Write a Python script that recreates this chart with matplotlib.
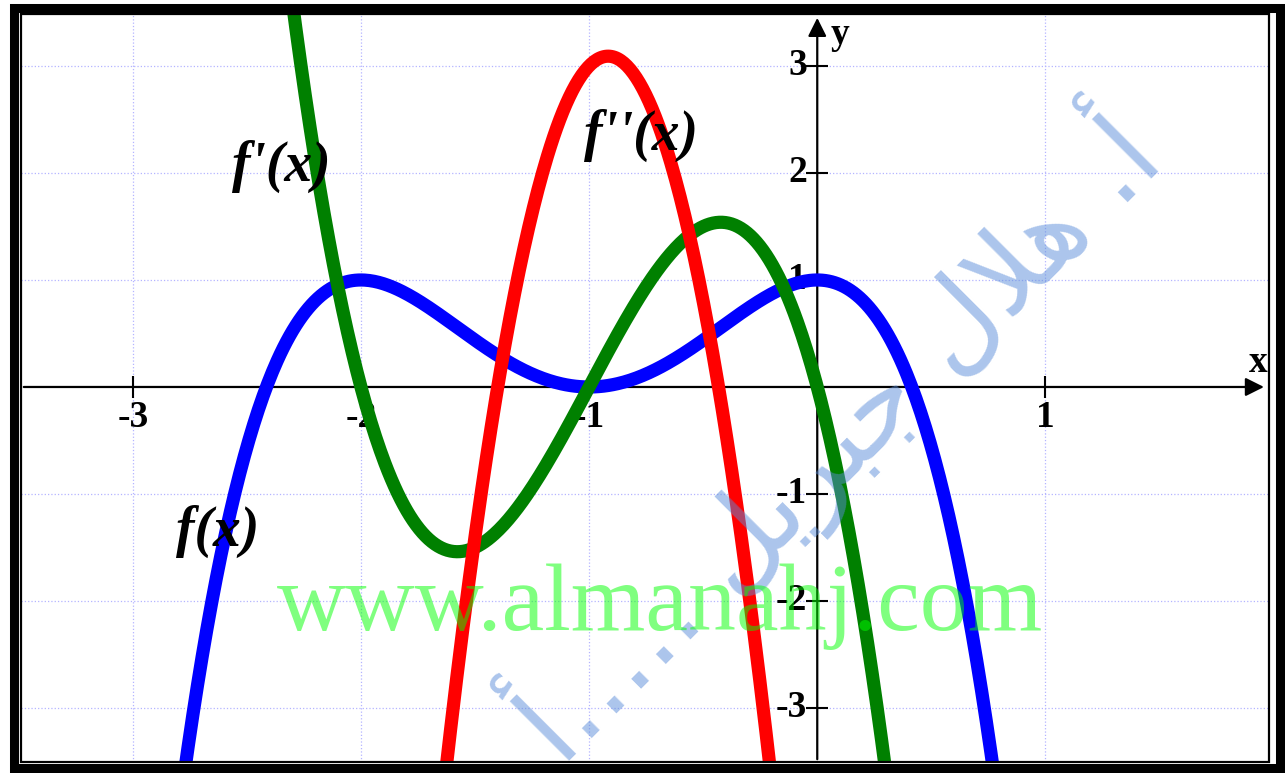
import numpy as np
import matplotlib.pyplot as plt
from matplotlib.patches import Rectangle

plt.rcParams['axes.unicode_minus'] = False

# polynomial coefficients (highest power first)
f_coef = [-1, -4, -4, 0, 1]        # f(x): max 1 at x=-2 and x=0, min 0 at x=-1
fp_coef = [-4, -12, -8, 0]         # f'(x)
fpp_coef = [-13.2, -24.2, -8.0]    # f''(x): peak ~3.08 near x=-0.92

xticks = [-3, -2, -1, 1]
yticks = [-3, -2, -1, 1, 2, 3]

xmin, xmax = -3.49, 1.98
ymin, ymax = -3.505, 3.486

W, H = 1285, 773
fig = plt.figure(figsize=(W / 100, H / 100), dpi=100)
ax = fig.add_axes([21 / W, (H - 762) / H, (1269 - 21) / W, (762 - 14) / H])
ax.set_xlim(xmin, xmax)
ax.set_ylim(ymin, ymax)
for s in ax.spines.values():
    s.set_visible(False)
ax.set_xticks([])
ax.set_yticks([])

# dotted grid at integers
for v in xticks:
    ax.axvline(v, color='#b4b4ff', lw=0.9, ls=':', zorder=0)
for v in yticks:
    ax.axhline(v, color='#b4b4ff', lw=0.9, ls=':', zorder=0)

# axes with arrows
ax.annotate('', xy=(xmax - 0.01, 0), xytext=(xmin, 0),
            arrowprops=dict(arrowstyle='-|>', color='k', lw=1.6, mutation_scale=28),
            annotation_clip=False, zorder=1)
ax.annotate('', xy=(0, ymax - 0.01), xytext=(0, ymin),
            arrowprops=dict(arrowstyle='-|>', color='k', lw=1.6, mutation_scale=28),
            annotation_clip=False, zorder=1)
ax.plot([0] * len(yticks), yticks, ls='none', marker='_', ms=16, mew=1.5, color='k', zorder=1)
ax.plot(xticks, [0] * len(xticks), ls='none', marker='|', ms=16, mew=1.5, color='k', zorder=1)

tfont = dict(family='Liberation Serif', weight='bold', size=27)
for v in xticks:
    ax.text(v, -0.12, str(v), ha='center', va='top', zorder=1, **tfont)
for v in yticks:
    ax.text(-0.045, v, str(v), ha='right', va='center', zorder=1, **tfont)
ax.text(1.935, 0.23, 'x', ha='center', va='center', zorder=1, **tfont)
ax.text(0.10, 3.29, 'y', ha='center', va='center', zorder=1, **tfont)

xs = np.linspace(xmin, xmax, 800)
ax.plot(xs, np.polyval(f_coef, xs), color='#0000ff', lw=9.5, zorder=3)
ax.plot(xs, np.polyval(fp_coef, xs), color='#008000', lw=9.5, zorder=3)
ax.plot(xs, np.polyval(fpp_coef, xs), color='#ff0000', lw=9.5, zorder=3)

lfont = dict(family='Liberation Serif', weight='bold', style='italic', size=40)
ax.text(-2.351, 2.065, "f'(x)", ha='center', va='center', zorder=4, **lfont)
ax.text(-0.772, 2.355, "f''(x)", ha='center', va='center', zorder=4, **lfont)
ax.text(-2.627, -1.346, "f(x)", ha='center', va='center', zorder=4, **lfont)

# watermarks
ax.text(-0.689, -2.271, 'www.almanahj.com', family='Liberation Serif', size=69,
        color='#00ff00', alpha=0.5, ha='center', va='baseline', zorder=6)
arabic = '\uFE83..... \uFEDE\uFEF3\uFEAE\uFE92\uFE9F \uFEDD\uFEFC\uFEEB .\uFE83'
ax.text(0.07, -0.45, arabic, family='DejaVu Sans', size=79, color='#5a8cd9',
        alpha=0.5, rotation=45, rotation_mode='anchor', ha='center', va='center', zorder=5)

# double frame
fig.patches.append(Rectangle((14 / W, 1 - 768 / H), (1280 - 14) / W, (768 - 7.5) / H,
                             transform=fig.transFigure, fill=False, ec='k', lw=6.5))
fig.patches.append(Rectangle((21 / W, 1 - 762 / H), (1269 - 21) / W, (762 - 14) / H,
                             transform=fig.transFigure, fill=False, ec='k', lw=1.6))

fig.savefig('out.png', dpi=100, facecolor='white')
